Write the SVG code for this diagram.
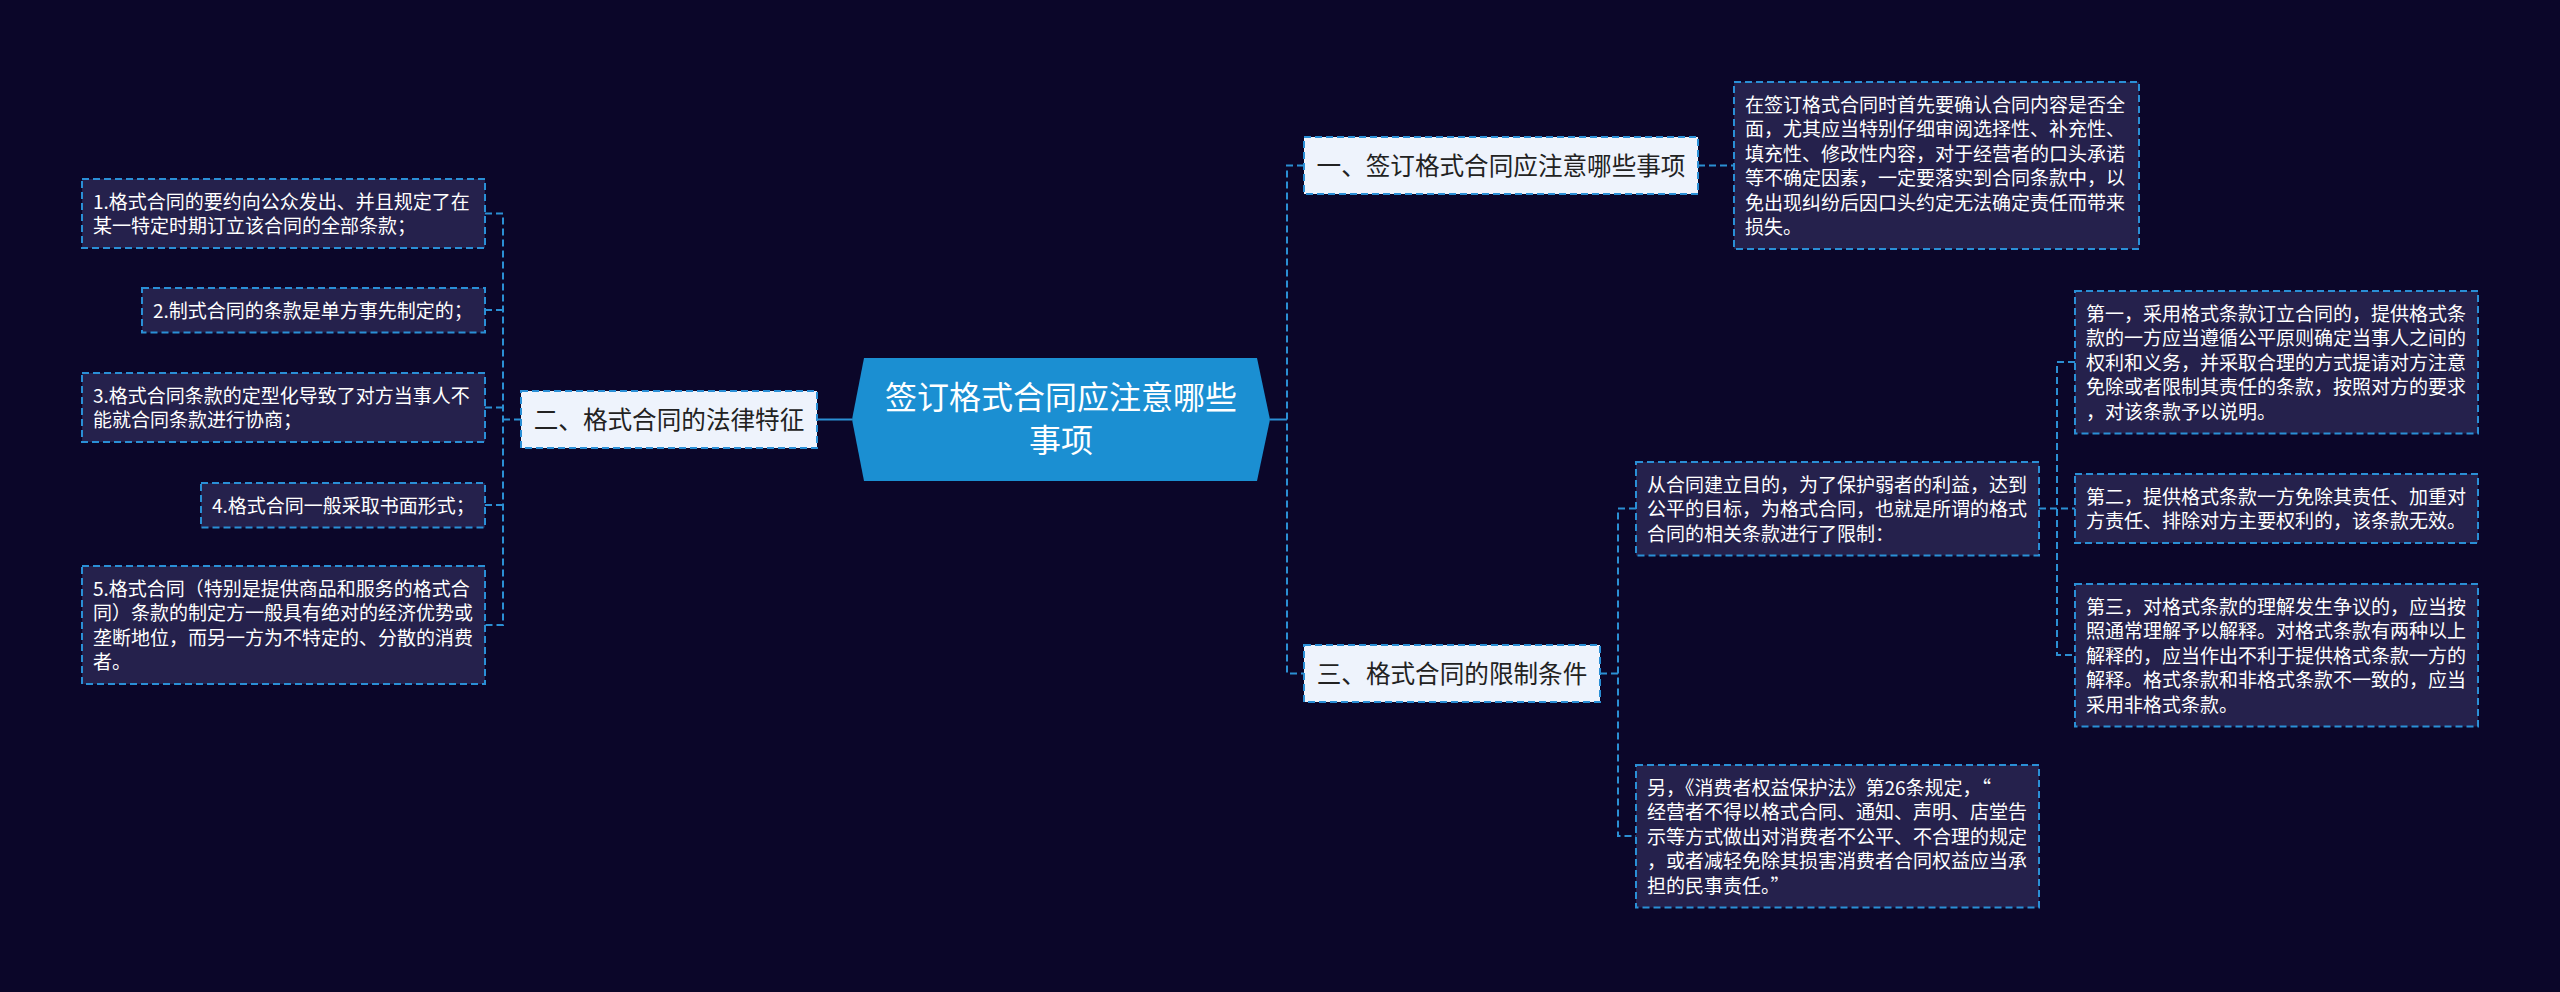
<svg xmlns="http://www.w3.org/2000/svg" width="2560" height="992" viewBox="0 0 2560 992">
<style>
.bg{fill:#0b0629}
.leaf rect{fill:#25214c;stroke:#2a8fd6;stroke-width:2;stroke-dasharray:7,4}
.leaf text{font-family:"Noto Sans CJK SC","Noto Sans",sans-serif;font-size:19px;fill:#ffffff}
.branch rect{fill:#eef3fc;stroke:#2a8fd6;stroke-width:2;stroke-dasharray:7,4}
.branch text{font-family:"Noto Sans CJK SC","Noto Sans",sans-serif;font-size:24.6px;fill:#222222;text-anchor:middle}
.root polygon{fill:#1b8fd2}
.root text{font-family:"Noto Sans CJK SC","Noto Sans",sans-serif;font-size:32px;fill:#ffffff;text-anchor:middle}
.conn path{fill:none;stroke:#2b8fd4;stroke-width:2;stroke-dasharray:7,4}
.conn path.solid{stroke-dasharray:none}
</style>
<rect class="bg" x="0" y="0" width="2560" height="992"/>
<g id="connectors" class="conn">
<path class="solid" d="M852,419.5 H817"/>
<path d="M485,213.5 H503 V625 H485"/>
<path d="M485,310 H503"/>
<path d="M485,407.5 H503"/>
<path d="M485,505 H503"/>
<path d="M503,419.5 H521"/>
<path class="solid" d="M1270,419.5 H1287"/>
<path d="M1304,165.5 H1287 V673.5 H1304"/>
<path d="M1698,165.5 H1734"/>
<path d="M1636,508.5 H1618 V836 H1636"/>
<path d="M1600,673.5 H1618"/>
<path d="M2075,362 H2057 V655 H2075"/>
<path d="M2039,508.5 H2075"/>
</g>
<g id="root" class="root">
<polygon points="852,419.5 864,358 1257,358 1270,419.5 1257,481 864,481"/>
<text x="1061" y="409">签订格式合同应注意哪些</text>
<text x="1061" y="452">事项</text>
</g>
<g id="branch2" class="branch">
<rect x="521" y="391" width="296" height="57"/>
<text x="669" y="429">二、格式合同的法律特征</text>
</g>
<g id="branch1" class="branch">
<rect x="1304" y="137" width="394" height="57"/>
<text x="1501" y="175">一、签订格式合同应注意哪些事项</text>
</g>
<g id="branch3" class="branch">
<rect x="1304" y="645" width="296" height="57"/>
<text x="1452" y="683">三、格式合同的限制条件</text>
</g>
<g id="leafL1" class="leaf">
<rect x="82" y="179" width="403" height="69"/>
<text x="93" y="208.75">1.格式合同的要约向公众发出、并且规定了在</text>
<text x="93" y="233.25">某一特定时期订立该合同的全部条款；</text>
</g>
<g id="leafL2" class="leaf">
<rect x="142" y="288" width="343" height="44.5"/>
<text x="153" y="317.5">2.制式合同的条款是单方事先制定的；</text>
</g>
<g id="leafL3" class="leaf">
<rect x="82" y="373" width="403" height="69"/>
<text x="93" y="402.75">3.格式合同条款的定型化导致了对方当事人不</text>
<text x="93" y="427.25">能就合同条款进行协商；</text>
</g>
<g id="leafL4" class="leaf">
<rect x="201" y="483" width="284" height="44.5"/>
<text x="212" y="512.5">4.格式合同一般采取书面形式；</text>
</g>
<g id="leafL5" class="leaf">
<rect x="82" y="566" width="403" height="118"/>
<text x="93" y="595.75">5.格式合同（特别是提供商品和服务的格式合</text>
<text x="93" y="620.25">同）条款的制定方一般具有绝对的经济优势或</text>
<text x="93" y="644.75">垄断地位，而另一方为不特定的、分散的消费</text>
<text x="93" y="669.25">者。</text>
</g>
<g id="leafR1" class="leaf">
<rect x="1734" y="82" width="405" height="167"/>
<text x="1745" y="111.75">在签订格式合同时首先要确认合同内容是否全</text>
<text x="1745" y="136.25">面，尤其应当特别仔细审阅选择性、补充性、</text>
<text x="1745" y="160.75">填充性、修改性内容，对于经营者的口头承诺</text>
<text x="1745" y="185.25">等不确定因素，一定要落实到合同条款中，以</text>
<text x="1745" y="209.75">免出现纠纷后因口头约定无法确定责任而带来</text>
<text x="1745" y="234.25">损失。</text>
</g>
<g id="leafR3a" class="leaf">
<rect x="1636" y="462" width="403" height="93.5"/>
<text x="1647" y="491.5">从合同建立目的，为了保护弱者的利益，达到</text>
<text x="1647" y="516">公平的目标，为格式合同，也就是所谓的格式</text>
<text x="1647" y="540.5">合同的相关条款进行了限制：</text>
</g>
<g id="leafR3b" class="leaf">
<rect x="1636" y="765" width="403" height="142.5"/>
<text x="1647" y="794.5">另，《消费者权益保护法》第26条规定，“</text>
<text x="1647" y="819">经营者不得以格式合同、通知、声明、店堂告</text>
<text x="1647" y="843.5">示等方式做出对消费者不公平、不合理的规定</text>
<text x="1647" y="868">，或者减轻免除其损害消费者合同权益应当承</text>
<text x="1647" y="892.5">担的民事责任。”</text>
</g>
<g id="leafR3a1" class="leaf">
<rect x="2075" y="291" width="403" height="142.5"/>
<text x="2086" y="320.5">第一，采用格式条款订立合同的，提供格式条</text>
<text x="2086" y="345">款的一方应当遵循公平原则确定当事人之间的</text>
<text x="2086" y="369.5">权利和义务，并采取合理的方式提请对方注意</text>
<text x="2086" y="394">免除或者限制其责任的条款，按照对方的要求</text>
<text x="2086" y="418.5">，对该条款予以说明。</text>
</g>
<g id="leafR3a2" class="leaf">
<rect x="2075" y="474" width="403" height="69"/>
<text x="2086" y="503.75">第二，提供格式条款一方免除其责任、加重对</text>
<text x="2086" y="528.25">方责任、排除对方主要权利的，该条款无效。</text>
</g>
<g id="leafR3a3" class="leaf">
<rect x="2075" y="584" width="403" height="142.5"/>
<text x="2086" y="613.5">第三，对格式条款的理解发生争议的，应当按</text>
<text x="2086" y="638">照通常理解予以解释。对格式条款有两种以上</text>
<text x="2086" y="662.5">解释的，应当作出不利于提供格式条款一方的</text>
<text x="2086" y="687">解释。格式条款和非格式条款不一致的，应当</text>
<text x="2086" y="711.5">采用非格式条款。</text>
</g>
</svg>
